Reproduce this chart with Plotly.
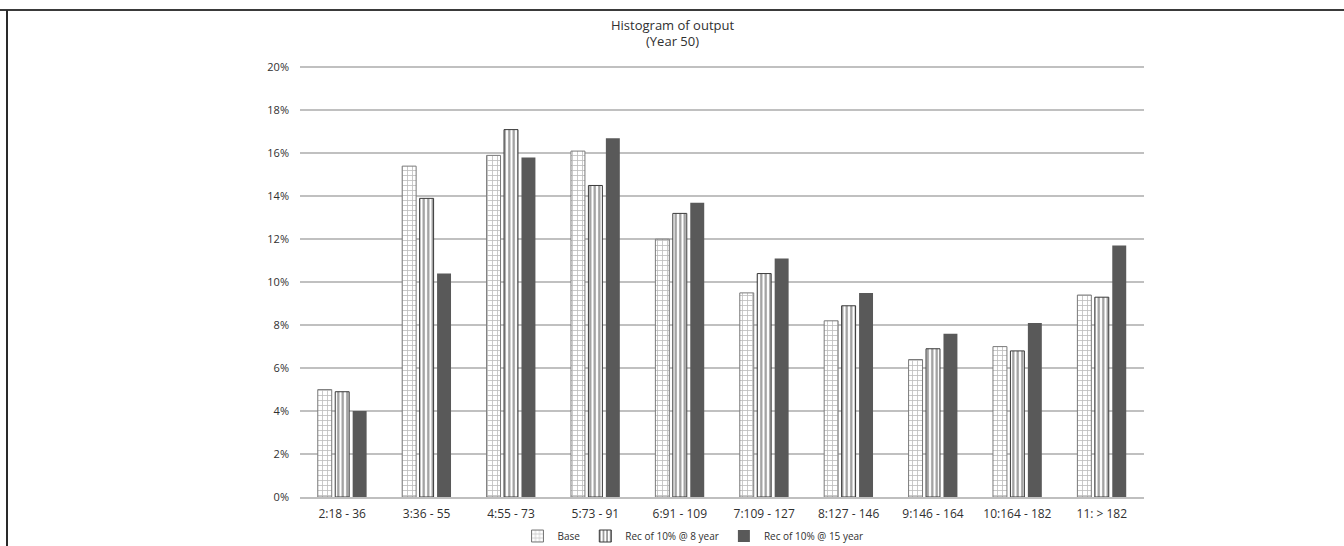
import plotly.graph_objects as go

categories = ["2:18 - 36", "3:36 - 55", "4:55 - 73", "5:73 - 91", "6:91 - 109",
              "7:109 - 127", "8:127 - 146", "9:146 - 164", "10:164 - 182", "11: > 182"]
base = [5.0, 15.4, 15.9, 16.1, 12.0, 9.5, 8.2, 6.4, 7.0, 9.4]
rec8 = [4.9, 13.9, 17.1, 14.5, 13.2, 10.4, 8.9, 6.9, 6.8, 9.3]
rec15 = [4.0, 10.4, 15.8, 16.7, 13.7, 11.1, 9.5, 7.6, 8.1, 11.7]
tick_vals = [0, 2, 4, 6, 8, 10, 12, 14, 16, 18, 20]
tick_text = [f"{v}%" for v in tick_vals]

fig = go.Figure()
fig.add_trace(go.Bar(
    name="Base", x=categories, y=base,
    marker=dict(color="white", line=dict(color="#7a7a7a", width=1),
                pattern=dict(shape="+", fgcolor="#7a7a7a", bgcolor="white",
                             size=5, solidity=0.3)),
))
fig.add_trace(go.Bar(
    name="Rec of 10% @ 8 year", x=categories, y=rec8,
    marker=dict(color="white", line=dict(color="#3a3a3a", width=1),
                pattern=dict(shape="|", fgcolor="#3a3a3a", bgcolor="white",
                             size=4.5, solidity=0.5)),
))
fig.add_trace(go.Bar(
    name="Rec of 10% @ 15 year", x=categories, y=rec15,
    marker=dict(color="#595959", line=dict(color="#595959", width=0)),
))

YMAX = 20.2
L, R, B = 300, 200, 49
T = round(497 - 430 * YMAX / 20)
pw = 1344 - L - R
ph = 546 - T - B

def py(pix):
    return (546 - B - pix) / ph

fig.update_layout(
    width=1344, height=546,
    margin=dict(l=L, r=R, t=T, b=B, autoexpand=False),
    paper_bgcolor="white", plot_bgcolor="white",
    barmode="group", bargap=0.38, bargroupgap=0.2,
    font=dict(family="Open Sans, Liberation Sans, sans-serif", size=11, color="#404040"),
    legend=dict(orientation="h", xref="container", yref="container",
                x=693 / 1344, xanchor="center",
                y=1 - 536 / 546, yanchor="middle",
                font=dict(size=10, color="#303030"),
                traceorder="normal"),
    xaxis=dict(showgrid=False, showline=True, linecolor="#bfbfbf", linewidth=1.5,
               automargin=False,
               ticks="", ticklabelstandoff=5, tickfont=dict(size=12, color="#303030")),
    yaxis=dict(range=[0, YMAX], tickvals=tick_vals, ticktext=tick_text,
               automargin=False,
               showgrid=True, gridcolor="#c0c0c0", gridwidth=1.5,
               zeroline=False, showline=False, ticks="", ticklabelstandoff=10,
               tickfont=dict(size=11, color="#303030")),
    annotations=[
        dict(text="Histogram of output", xref="paper", yref="paper",
             x=(672 - L) / pw, y=py(25), xanchor="center", yanchor="middle",
             showarrow=False, font=dict(size=13, color="#303030")),
        dict(text="(Year 50)", xref="paper", yref="paper",
             x=(672 - L) / pw, y=py(41), xanchor="center", yanchor="middle",
             showarrow=False, font=dict(size=13, color="#303030")),
    ],
    shapes=[
        dict(type="line", xref="paper", yref="paper",
             x0=(0 - L) / pw, x1=(1344 - L) / pw,
             y0=py(10), y1=py(10),
             line=dict(color="#3a3a3a", width=2)),
        dict(type="line", xref="paper", yref="paper",
             x0=(7 - L) / pw, x1=(7 - L) / pw,
             y0=py(10), y1=py(546),
             line=dict(color="#2a2a2a", width=2)),
    ],
)

fig.write_html("out.html", config={"displayModeBar": False},
               post_script="document.body.style.margin='0';")
